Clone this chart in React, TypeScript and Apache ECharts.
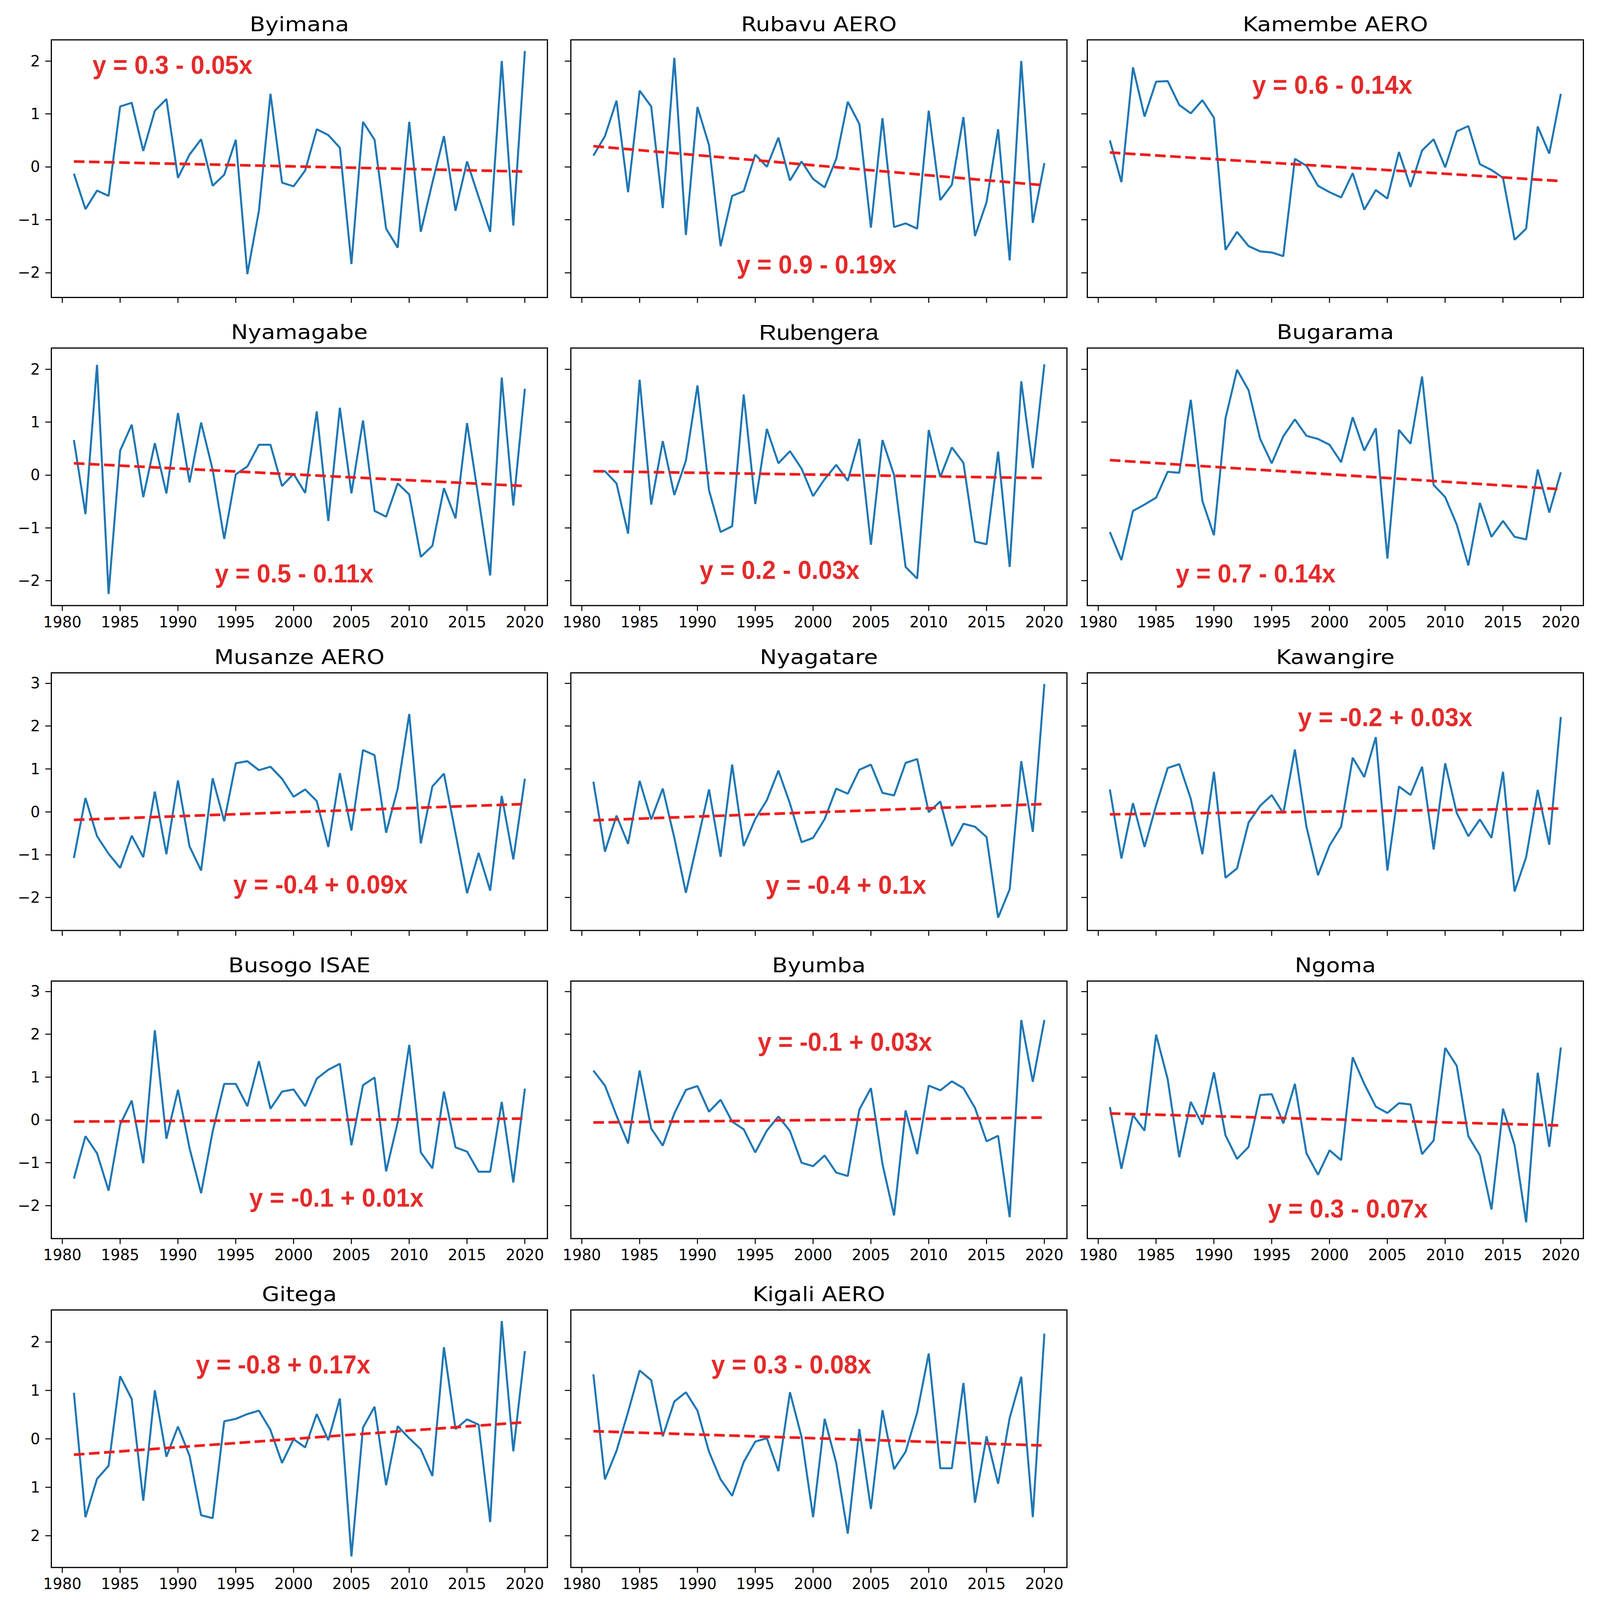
import React, { useEffect, useRef } from "react";
import * as echarts from "echarts";

const years = Array.from({ length: 40 }, (_, i) => 1981 + i);
const xTicks = [1980, 1985, 1990, 1995, 2000, 2005, 2010, 2015, 2020];
const yTicksA = [-2, -1, 0, 1, 2];
const yTicksB = [-2, -1, 0, 1, 2, 3];

const names = [
  "Byimana", "Rubavu AERO", "Kamembe AERO",
  "Nyamagabe", "Rubengera", "Bugarama",
  "Musanze AERO", "Nyagatare", "Kawangire",
  "Busogo ISAE", "Byumba", "Ngoma",
  "Gitega", "Kigali AERO",
];

const byimana = [-0.13,-0.80,-0.45,-0.55,1.14,1.21,0.30,1.06,1.28,-0.21,0.23,0.52,-0.36,-0.15,0.51,-2.03,-0.83,1.38,-0.30,-0.37,-0.07,0.71,0.60,0.36,-1.84,0.85,0.51,-1.17,-1.53,0.85,-1.23,-0.30,0.58,-0.83,0.10,-0.57,-1.23,2.00,-1.11,2.19];
const rubavu = [0.21,0.58,1.25,-0.48,1.44,1.14,-0.78,2.06,-1.29,1.13,0.41,-1.50,-0.55,-0.46,0.23,0.00,0.55,-0.26,0.10,-0.23,-0.39,0.15,1.23,0.81,-1.15,0.92,-1.14,-1.07,-1.17,1.06,-0.63,-0.34,0.94,-1.31,-0.67,0.71,-1.77,2.00,-1.06,0.07];
const kamembe = [0.50,-0.29,1.88,0.95,1.61,1.62,1.17,1.01,1.26,0.93,-1.57,-1.23,-1.50,-1.60,-1.62,-1.69,0.15,0.02,-0.36,-0.48,-0.58,-0.12,-0.81,-0.44,-0.60,0.28,-0.38,0.31,0.52,-0.01,0.67,0.77,0.05,-0.06,-0.21,-1.38,-1.17,0.76,0.25,1.38];
const nyamagabe = [0.66,-0.74,2.08,-2.25,0.46,0.95,-0.42,0.60,-0.35,1.17,-0.14,0.99,0.10,-1.21,0.01,0.16,0.57,0.57,-0.21,0.02,-0.34,1.20,-0.87,1.27,-0.35,1.03,-0.68,-0.79,-0.16,-0.37,-1.55,-1.34,-0.25,-0.82,0.98,-0.45,-1.90,1.84,-0.58,1.63];
const rubengera = [0.07,0.07,-0.16,-1.11,1.80,-0.56,0.64,-0.38,0.27,1.69,-0.29,-1.08,-0.97,1.52,-0.55,0.87,0.22,0.45,0.12,-0.40,-0.08,0.19,-0.11,0.68,-1.32,0.66,0.00,-1.74,-1.96,0.85,-0.04,0.52,0.23,-1.26,-1.31,0.44,-1.74,1.77,0.13,2.09];
const bugarama = [-1.08,-1.61,-0.68,-0.56,-0.43,0.06,0.04,1.42,-0.49,-1.14,1.07,1.99,1.60,0.68,0.22,0.73,1.05,0.74,0.68,0.57,0.24,1.09,0.46,0.88,-1.58,0.85,0.59,1.86,-0.19,-0.42,-0.94,-1.71,-0.53,-1.17,-0.87,-1.17,-1.22,0.10,-0.71,0.05];
const musanze = [-1.08,0.32,-0.57,-0.98,-1.31,-0.56,-1.06,0.47,-0.99,0.73,-0.81,-1.37,0.78,-0.22,1.13,1.18,0.97,1.05,0.77,0.35,0.52,0.25,-0.82,0.90,-0.44,1.44,1.32,-0.49,0.54,2.28,-0.74,0.59,0.89,-0.50,-1.90,-0.96,-1.84,0.37,-1.11,0.77];
const nyagatare = [0.70,-0.93,-0.09,-0.75,0.72,-0.18,0.54,-0.61,-1.89,-0.70,0.52,-1.05,1.10,-0.80,-0.17,0.27,0.96,0.19,-0.71,-0.61,-0.17,0.54,0.42,0.98,1.10,0.44,0.38,1.14,1.23,-0.01,0.24,-0.80,-0.28,-0.35,-0.59,-2.47,-1.81,1.18,-0.47,2.98];
const kawangire = [0.52,-1.09,0.20,-0.82,0.15,1.02,1.11,0.30,-0.99,0.93,-1.54,-1.32,-0.25,0.14,0.39,-0.04,1.45,-0.35,-1.48,-0.79,-0.35,1.26,0.81,1.74,-1.37,0.59,0.39,1.05,-0.88,1.13,-0.03,-0.57,-0.18,-0.61,0.93,-1.86,-1.06,0.51,-0.77,2.21];
const busogo = [-1.37,-0.38,-0.78,-1.65,-0.11,0.45,-1.01,2.09,-0.44,0.70,-0.66,-1.71,-0.27,0.84,0.84,0.32,1.37,0.26,0.66,0.71,0.32,0.96,1.17,1.31,-0.59,0.81,0.99,-1.20,-0.06,1.75,-0.76,-1.13,0.66,-0.64,-0.74,-1.21,-1.21,0.42,-1.46,0.73];
const byumba = [1.15,0.80,0.10,-0.55,1.15,-0.20,-0.60,0.15,0.70,0.79,0.19,0.47,-0.04,-0.22,-0.76,-0.25,0.08,-0.26,-1.00,-1.08,-0.83,-1.23,-1.31,0.24,0.74,-1.03,-2.23,0.22,-0.80,0.80,0.69,0.90,0.74,0.28,-0.50,-0.37,-2.27,2.33,0.89,2.33];
const ngoma = [0.30,-1.14,0.11,-0.25,1.99,0.95,-0.87,0.42,-0.11,1.11,-0.36,-0.91,-0.63,0.58,0.60,-0.08,0.84,-0.78,-1.28,-0.71,-0.94,1.46,0.84,0.31,0.16,0.39,0.36,-0.80,-0.48,1.68,1.26,-0.38,-0.83,-2.09,0.26,-0.59,-2.39,1.10,-0.63,1.69];
const gitega = [0.95,-1.62,-0.83,-0.56,1.29,0.82,-1.28,1.00,-0.37,0.25,-0.35,-1.58,-1.64,0.36,0.41,0.51,0.58,0.18,-0.50,-0.01,-0.18,0.51,-0.03,0.83,-2.43,0.23,0.66,-0.96,0.26,0.01,-0.22,-0.77,1.89,0.20,0.40,0.29,-1.72,2.43,-0.26,1.81];
const kigali = [1.33,-0.84,-0.25,0.55,1.41,1.21,0.05,0.77,0.96,0.58,-0.27,-0.84,-1.18,-0.48,-0.06,0.01,-0.67,0.96,0.04,-1.62,0.41,-0.50,-1.96,0.20,-1.45,0.59,-0.63,-0.27,0.54,1.76,-0.61,-0.61,1.15,-1.32,0.05,-0.93,0.43,1.28,-1.62,2.17];

const seriesValues = [byimana, rubavu, kamembe, nyamagabe, rubengera, bugarama, musanze, nyagatare, kawangire, busogo, byumba, ngoma, gitega, kigali];

const trendStart = [0.10, 0.39, 0.27, 0.22, 0.07, 0.28, -0.19, -0.20, -0.06, -0.04, -0.06, 0.15, -0.33, 0.155];
const trendEnd = [-0.09, -0.35, -0.27, -0.21, -0.06, -0.27, 0.18, 0.18, 0.075, 0.03, 0.055, -0.13, 0.34, -0.14];

const equations = [
  "y = 0.3 - 0.05x", "y = 0.9 - 0.19x", "y = 0.6 - 0.14x",
  "y = 0.5 - 0.11x", "y = 0.2 - 0.03x", "y = 0.7 - 0.14x",
  "y = -0.4 + 0.09x", "y = -0.4 + 0.1x", "y = -0.2 + 0.03x",
  "y = -0.1 + 0.01x", "y = -0.1 + 0.03x", "y = 0.3 - 0.07x",
  "y = -0.8 + 0.17x", "y = 0.3 - 0.08x",
];

// layout in reference pixels (4238 x 4777), scaled to the real viewport
const REF_W = 4238;
const REF_H = 4777;
const colLeft = [136, 1512, 2880];
const rowTop = [119, 1039, 2009, 2929, 3911];
const plotW = 1314;
const plotH = 769;
const eqPos = [
  [245, 194], [1951, 790], [3317, 253],
  [569, 1712], [1853, 1702], [3114, 1712],
  [618, 2640], [2028, 2642], [3438, 2141],
  [660, 3576], [2007, 3110], [3358, 3608],
  [519, 4074], [1884, 4074],
];
const yRange = [
  [-2.47, 2.4], [-2.47, 2.4], [-2.77, 3.24], [-2.77, 3.24], [-2.66, 2.66],
];
const showXLabels = [false, true, false, true, true];

const fmtMinus = (v: number) => (v < 0 ? "\u2212" + Math.abs(v) : String(v));

function buildOption(W: number, H: number) {
  const sx = W / REF_W;
  const sy = H / REF_H;
  const sf = sy;
  const stretch = sx / sy;
  const grid: any[] = [];
  const xAxis: any[] = [];
  const yAxis: any[] = [];
  const series: any[] = [];
  const graphic: any[] = [];

  names.forEach((name, i) => {
    const r = Math.floor(i / 3);
    const c = i % 3;
    const left = colLeft[c] * sx;
    const top = rowTop[r] * sy;
    const w = plotW * sx;
    const h = plotH * sy;
    grid.push({
      left, top, width: w, height: h,
      show: true, borderColor: "#000", borderWidth: 3.5 * sf, backgroundColor: "#fff",
      containLabel: false,
    });
    xAxis.push({
      gridIndex: i, type: "value", min: 1979.05, max: 2021.95, position: "bottom",
      axisLine: { show: false, onZero: false },
      splitLine: { show: false },
      axisTick: { show: true, customValues: xTicks, length: 16 * sy, inside: false, lineStyle: { color: "#000", width: 3 * sf } },
      axisLabel: {
        show: showXLabels[r], customValues: xTicks, margin: 26 * sy,
        fontFamily: "DejaVu Sans", fontSize: 45 * sf, color: "#000",
        formatter: (v: number) => String(v),
      },
    });
    const yt = r === 2 || r === 3 ? yTicksB : yTicksA;
    yAxis.push({
      gridIndex: i, type: "value", min: yRange[r][0], max: yRange[r][1], position: "left",
      axisLine: { show: false, onZero: false },
      splitLine: { show: false },
      axisTick: { show: true, customValues: yt, length: 16 * sx, inside: false, lineStyle: { color: "#000", width: 3 * sf } },
      axisLabel: {
        show: c === 0, customValues: yt, margin: 30 * sx,
        fontFamily: "DejaVu Sans", fontSize: 45 * sf, color: "#000",
        formatter: r === 4 ? (v: number) => String(Math.abs(v)) : fmtMinus,
      },
    });
    series.push({
      type: "line", xAxisIndex: i, yAxisIndex: i,
      data: years.map((y, k) => [y, seriesValues[i][k]]),
      symbol: "none", showSymbol: false,
      lineStyle: { color: "#1f77b4", width: 6 * sf },
      z: 2,
    });
    series.push({
      type: "line", xAxisIndex: i, yAxisIndex: i,
      data: [[years[0], trendStart[i]], [years[years.length - 1], trendEnd[i]]],
      symbol: "none", showSymbol: false,
      lineStyle: { color: "#f01c1c", width: 8 * sf, type: [28 * sx, 12 * sx] },
      z: 3,
    });
    const isRub = name === "Rubengera";
    graphic.push({
      type: "text",
      x: left + w / 2,
      y: top - 47 * sy,
      scaleX: stretch,
      style: {
        text: name,
        fill: "#000",
        fontFamily: isRub ? "Liberation Sans" : "DejaVu Sans",
        fontSize: (isRub ? 64 : 60) * sf,
        align: "center",
        verticalAlign: "middle",
      },
    });
    graphic.push({
      type: "text",
      x: eqPos[i][0] * sx,
      y: eqPos[i][1] * sy,
      scaleX: 0.85 * stretch,
      style: {
        text: equations[i],
        fill: "#e52a2a",
        fontFamily: "Liberation Sans",
        fontWeight: "bold",
        fontSize: 77 * sf,
        align: "left",
        verticalAlign: "middle",
      },
      z: 10,
    });
  });

  return {
    animation: false,
    backgroundColor: "#fff",
    grid, xAxis, yAxis, series, graphic,
  };
}

export default function App() {
  const ref = useRef<HTMLDivElement>(null);
  const W = window.innerWidth || REF_W;
  const H = window.innerHeight || REF_H;
  useEffect(() => {
    if (!ref.current) return;
    const chart = echarts.init(ref.current, undefined, { renderer: "svg" });
    chart.setOption(buildOption(W, H) as any);
    return () => chart.dispose();
  }, []);
  return (
    <div
      ref={ref}
      style={{ position: "absolute", left: 0, top: 0, width: W, height: H, background: "#fff" }}
    />
  );
}
